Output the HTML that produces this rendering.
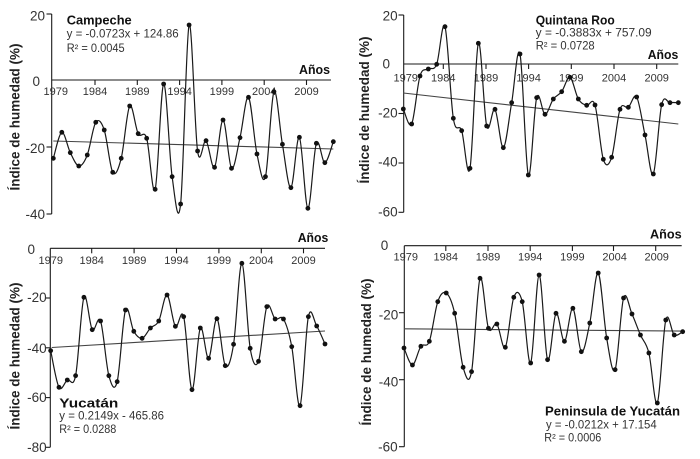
<!DOCTYPE html>
<html>
<head>
<meta charset="utf-8">
<style>
  html,body{margin:0;padding:0;background:#fff;}
  svg{display:block;}
  text{font-family:"Liberation Sans", Arial, sans-serif;fill:#1a1a1a;}
  .tk{font-size:13.5px;fill:#333;}
  .yr{font-size:11px;fill:#333;text-anchor:middle;}
  .ttl{font-size:13px;font-weight:bold;fill:#111;}
  .eq{font-size:11.5px;fill:#333;}
  .yt{font-size:13.5px;font-weight:bold;fill:#222;text-anchor:middle;}
  .ax{stroke:#1a1a1a;stroke-width:1.1;fill:none;}
</style>
</head>
<body>
<svg id="chart" width="700" height="459" viewBox="0 0 700 459" xmlns="http://www.w3.org/2000/svg">
  <rect width="700" height="459" fill="#fff"/>

  <!-- ===== Panel 1: Campeche ===== -->
  <g>
    <line class="ax" x1="51.7" y1="14" x2="51.7" y2="214"/>
    <line class="ax" x1="51.7" y1="80" x2="331" y2="80"/>
    <line class="ax" x1="46.5" y1="14" x2="51.7" y2="14"/>
    <line class="ax" x1="46.5" y1="147" x2="51.7" y2="147"/>
    <line class="ax" x1="46.5" y1="214" x2="51.7" y2="214"/>
    <g class="ax">
      <line x1="95" y1="80" x2="95" y2="85"/>
      <line x1="137.3" y1="80" x2="137.3" y2="85"/>
      <line x1="179.6" y1="80" x2="179.6" y2="85"/>
      <line x1="221.9" y1="80" x2="221.9" y2="85"/>
      <line x1="264.2" y1="80" x2="264.2" y2="85"/>
      <line x1="306.5" y1="80" x2="306.5" y2="85"/>
    </g>
    <text class="tk" x="45" y="20.5" text-anchor="end">20</text>
    <text class="tk" x="40" y="86" text-anchor="end">0</text>
    <text class="tk" x="45" y="153" text-anchor="end">-20</text>
    <text class="tk" x="45" y="219" text-anchor="end">-40</text>
    <text class="yr" x="55.8" y="95">1979</text>
    <text class="yr" x="95" y="95">1984</text>
    <text class="yr" x="137.3" y="95">1989</text>
    <text class="yr" x="179.6" y="95">1994</text>
    <text class="yr" x="221.9" y="95">1999</text>
    <text class="yr" x="264.2" y="95">2004</text>
    <text class="yr" x="306.5" y="95">2009</text>
    <text class="ttl" x="66.7" y="24.5" textLength="65" lengthAdjust="spacingAndGlyphs">Campeche</text>
    <text class="eq" x="66.7" y="37.5" textLength="112" lengthAdjust="spacingAndGlyphs">y = -0.0723x + 124.86</text>
    <text class="eq" x="66.7" y="52" textLength="58" lengthAdjust="spacingAndGlyphs">R² = 0.0045</text>
    <text class="ttl" x="299" y="74" textLength="31" lengthAdjust="spacingAndGlyphs">Años</text>
    <text class="yt" transform="translate(19.5,117) rotate(-90)" textLength="147" lengthAdjust="spacingAndGlyphs">Índice de humedad (%)</text>
  </g>

  <!-- ===== Panel 2: Quintana Roo ===== -->
  <g>
    <line class="ax" x1="403.7" y1="15" x2="403.7" y2="212.3"/>
    <line class="ax" x1="403.7" y1="64" x2="678.3" y2="64"/>
    <line class="ax" x1="398.5" y1="15" x2="403.7" y2="15"/>
    <line class="ax" x1="398.5" y1="113.5" x2="403.7" y2="113.5"/>
    <line class="ax" x1="398.5" y1="163" x2="403.7" y2="163"/>
    <line class="ax" x1="398.5" y1="212.3" x2="403.7" y2="212.3"/>
    <g class="ax">
      <line x1="443.3" y1="64" x2="443.3" y2="69"/>
      <line x1="486" y1="64" x2="486" y2="69"/>
      <line x1="528.6" y1="64" x2="528.6" y2="69"/>
      <line x1="571.3" y1="64" x2="571.3" y2="69"/>
      <line x1="614" y1="64" x2="614" y2="69"/>
      <line x1="656.7" y1="64" x2="656.7" y2="69"/>
    </g>
    <text class="tk" x="397.7" y="20.7" text-anchor="end">20</text>
    <text class="tk" x="390" y="68.3" text-anchor="end">0</text>
    <text class="tk" x="397.7" y="117.3" text-anchor="end">-20</text>
    <text class="tk" x="397.7" y="166.7" text-anchor="end">-40</text>
    <text class="tk" x="397.7" y="216.7" text-anchor="end">-60</text>
    <text class="yr" x="405.7" y="81.5">1979</text>
    <text class="yr" x="443.3" y="81.5">1984</text>
    <text class="yr" x="486" y="81.5">1989</text>
    <text class="yr" x="528.6" y="81.5">1994</text>
    <text class="yr" x="571.3" y="81.5">1999</text>
    <text class="yr" x="614" y="81.5">2004</text>
    <text class="yr" x="656.7" y="81.5">2009</text>
    <text class="ttl" x="535.7" y="24.5" textLength="79" lengthAdjust="spacingAndGlyphs">Quintana Roo</text>
    <text class="eq" x="535.7" y="36.7" textLength="116" lengthAdjust="spacingAndGlyphs">y = -0.3883x + 757.09</text>
    <text class="eq" x="535.7" y="49.3" textLength="59" lengthAdjust="spacingAndGlyphs">R² = 0.0728</text>
    <text class="ttl" x="647.7" y="59" textLength="30.6" lengthAdjust="spacingAndGlyphs">Años</text>
    <text class="yt" transform="translate(369,110) rotate(-90)" textLength="147" lengthAdjust="spacingAndGlyphs">Índice de humedad (%)</text>
  </g>

  <!-- ===== Panel 3: Yucatán ===== -->
  <g>
    <line class="ax" x1="50.3" y1="248.3" x2="50.3" y2="447.3"/>
    <line class="ax" x1="50.3" y1="248.3" x2="325" y2="248.3"/>
    <line class="ax" x1="45" y1="298" x2="50.3" y2="298"/>
    <line class="ax" x1="45" y1="347.8" x2="50.3" y2="347.8"/>
    <line class="ax" x1="45" y1="397.6" x2="50.3" y2="397.6"/>
    <line class="ax" x1="45" y1="447.3" x2="50.3" y2="447.3"/>
    <g class="ax">
      <line x1="91.7" y1="248.3" x2="91.7" y2="253.3"/>
      <line x1="134.1" y1="248.3" x2="134.1" y2="253.3"/>
      <line x1="176.5" y1="248.3" x2="176.5" y2="253.3"/>
      <line x1="218.9" y1="248.3" x2="218.9" y2="253.3"/>
      <line x1="261.3" y1="248.3" x2="261.3" y2="253.3"/>
      <line x1="303.5" y1="248.3" x2="303.5" y2="253.3"/>
    </g>
    <text class="tk" x="35" y="254" text-anchor="end">0</text>
    <text class="tk" x="46.7" y="302" text-anchor="end">-20</text>
    <text class="tk" x="46.7" y="353" text-anchor="end">-40</text>
    <text class="tk" x="46.7" y="402" text-anchor="end">-60</text>
    <text class="tk" x="46.7" y="452" text-anchor="end">-80</text>
    <text class="yr" x="50.8" y="264">1979</text>
    <text class="yr" x="91.7" y="264">1984</text>
    <text class="yr" x="134.1" y="264">1989</text>
    <text class="yr" x="176.5" y="264">1994</text>
    <text class="yr" x="218.9" y="264">1999</text>
    <text class="yr" x="261.3" y="264">2004</text>
    <text class="yr" x="303.5" y="264">2009</text>
    <text class="ttl" x="59.3" y="407.3" textLength="59" lengthAdjust="spacingAndGlyphs">Yucatán</text>
    <text class="eq" x="59.3" y="419.7" textLength="104.7" lengthAdjust="spacingAndGlyphs">y = 0.2149x - 465.86</text>
    <text class="eq" x="59.3" y="433" textLength="57" lengthAdjust="spacingAndGlyphs">R² = 0.0288</text>
    <text class="ttl" x="297.7" y="242" textLength="30.6" lengthAdjust="spacingAndGlyphs">Años</text>
    <text class="yt" transform="translate(19.5,356) rotate(-90)" textLength="147" lengthAdjust="spacingAndGlyphs">Índice de humedad (%)</text>
  </g>

  <!-- ===== Panel 4: Peninsula de Yucatán ===== -->
  <g>
    <line class="ax" x1="404.3" y1="245.7" x2="404.3" y2="446.7"/>
    <line class="ax" x1="404.3" y1="245.7" x2="681.7" y2="245.7"/>
    <line class="ax" x1="399" y1="312.7" x2="404.3" y2="312.7"/>
    <line class="ax" x1="399" y1="379.7" x2="404.3" y2="379.7"/>
    <line class="ax" x1="399" y1="446.7" x2="404.3" y2="446.7"/>
    <g class="ax">
      <line x1="445.8" y1="245.7" x2="445.8" y2="251"/>
      <line x1="488" y1="245.7" x2="488" y2="251"/>
      <line x1="530.2" y1="245.7" x2="530.2" y2="251"/>
      <line x1="572.4" y1="245.7" x2="572.4" y2="251"/>
      <line x1="613.5" y1="245.7" x2="613.5" y2="251"/>
      <line x1="655.7" y1="245.7" x2="655.7" y2="251"/>
    </g>
    <text class="tk" x="388.3" y="250" text-anchor="end">0</text>
    <text class="tk" x="398.3" y="319.5" text-anchor="end">-20</text>
    <text class="tk" x="398.3" y="386.5" text-anchor="end">-40</text>
    <text class="tk" x="397.7" y="451.5" text-anchor="end">-60</text>
    <text class="yr" x="405.8" y="260.7">1979</text>
    <text class="yr" x="445.8" y="260.7">1984</text>
    <text class="yr" x="488" y="260.7">1989</text>
    <text class="yr" x="530.2" y="260.7">1994</text>
    <text class="yr" x="572.4" y="260.7">1999</text>
    <text class="yr" x="614.6" y="260.7">2004</text>
    <text class="yr" x="656.7" y="260.7">2009</text>
    <text class="ttl" x="545" y="415.7" textLength="135" lengthAdjust="spacingAndGlyphs">Peninsula de Yucatán</text>
    <text class="eq" x="546" y="428.3" textLength="110.7" lengthAdjust="spacingAndGlyphs">y = -0.0212x + 17.154</text>
    <text class="eq" x="544.3" y="441.3" textLength="57" lengthAdjust="spacingAndGlyphs">R² = 0.0006</text>
    <text class="ttl" x="650" y="238.3" textLength="31.7" lengthAdjust="spacingAndGlyphs">Años</text>
    <text class="yt" transform="translate(371,352) rotate(-90)" textLength="147" lengthAdjust="spacingAndGlyphs">Índice de humedad (%)</text>
  </g>

  <g id="series"></g>
</svg>

<script>
(function(){
  var NS = "http://www.w3.org/2000/svg";
  var g = document.getElementById("series");
  var panels = [
    {zx0:160, zx1:1000, ox:0, oy:0,
     t:[53.3,141,333.3,149],
     zy:[475,397,458,498,465,367,390,517,475,318,401,415,568,252,530,612,75,453,422,502,360,505,413,292,462,530,275,433,563,412,625,430,488,425]},
    {zx0:160, zx1:985, ox:350, oy:0,
     t:[403.3,93,678.3,124],
     zy:[327,372,228,207,193,80,355,392,505,130,378,328,443,308,162,525,293,343,297,275,232,297,316,315,478,472,328,322,291,405,522,314,308,308]},
    {zx0:152, zx1:975, ox:0, oy:229,
     t:[51.7,347.5,325,331],
     zy:[365,475,453,440,205,302,276,440,458,243,307,328,297,276,198,292,263,482,297,388,269,410,346,103,358,397,233,270,270,353,530,263,291,345]},
    {zx0:162, zx1:998, ox:350, oy:229,
     t:[404,328.8,682.7,331.1],
     zy:[357,408,352,337,218,192,253,415,428,148,298,285,355,205,218,402,138,392,253,337,238,368,282,132,327,422,207,255,318,372,522,273,318,308]}
  ];
  function el(name, attrs){
    var e = document.createElementNS(NS, name);
    for (var k in attrs) e.setAttribute(k, attrs[k]);
    return e;
  }
  panels.forEach(function(p){
    // trend line
    g.appendChild(el("line",{x1:p.t[0],y1:p.t[1],x2:p.t[2],y2:p.t[3],stroke:"#444","stroke-width":"1.1"}));
    var n = p.zy.length, pts = [];
    for (var i=0;i<n;i++){
      var x = p.ox + (p.zx0 + i*(p.zx1-p.zx0)/(n-1))/3;
      var y = p.oy + p.zy[i]/3;
      pts.push([x,y]);
    }
    var d = "M"+pts[0][0].toFixed(2)+","+pts[0][1].toFixed(2);
    for (var i=0;i<n-1;i++){
      var p0 = pts[i-1]||pts[i], p1 = pts[i], p2 = pts[i+1], p3 = pts[i+2]||pts[i+1];
      var c1x = p1[0] + (p2[0]-p0[0])/6, c1y = p1[1] + (p2[1]-p0[1])/6;
      var c2x = p2[0] - (p3[0]-p1[0])/6, c2y = p2[1] - (p3[1]-p1[1])/6;
      d += " C"+c1x.toFixed(2)+","+c1y.toFixed(2)+" "+c2x.toFixed(2)+","+c2y.toFixed(2)+" "+p2[0].toFixed(2)+","+p2[1].toFixed(2);
    }
    g.appendChild(el("path",{d:d,fill:"none",stroke:"#1a1a1a","stroke-width":"1.2"}));
    pts.forEach(function(q){
      g.appendChild(el("circle",{cx:q[0].toFixed(2),cy:q[1].toFixed(2),r:"2.4",fill:"#111"}));
    });
  });
})();
</script>
</body>
</html>
